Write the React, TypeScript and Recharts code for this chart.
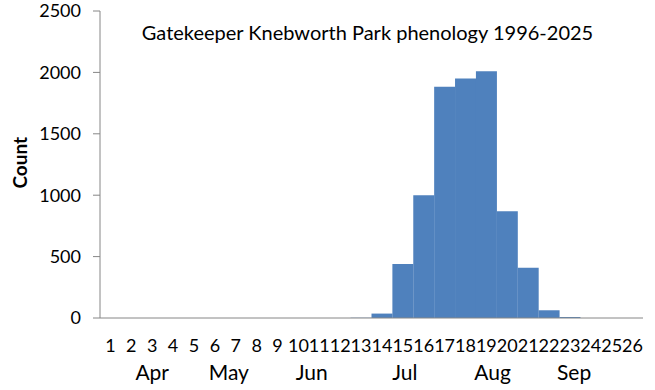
import { BarChart, Bar, XAxis, YAxis } from "recharts"

const weeks = Array.from({ length: 26 }, (_, i) => String(i + 1))
const counts = [0, 0, 0, 0, 0, 0, 0, 0, 0, 0, 0, 0, 2, 36, 440, 1000, 1883, 1950, 2009, 869, 410, 63, 8, 0, 0, 0]
const yTicks = [0, 500, 1000, 1500, 2000, 2500]
const monthNames = ["Apr", "May", "Jun", "Jul", "Aug", "Sep"]
const monthPos = [3, 6.67, 10.64, 15.1, 19.3, 23.2]

const data = weeks.map((w, i) => ({ week: w, wk: i + 1, count: counts[i] }))

const font = "Lato, Calibri, sans-serif"

export default function App() {
  return (
    <div style={{ position: "absolute", left: 0, top: 0, width: 655, height: 390, background: "#fff", fontFamily: font }}>
      <div style={{ position: "absolute", left: 92, width: 551, top: 19, textAlign: "center", fontSize: 20, lineHeight: "26px", color: "#000", zIndex: 1 }}>
        Gatekeeper Knebworth Park phenology 1996-2025
      </div>
      <BarChart width={655} height={390} data={data} barCategoryGap={0}
        margin={{ top: 11, right: 12, left: 0, bottom: 0 }}>
        <YAxis domain={[0, 2500]} ticks={yTicks} width={100} interval={0}
          axisLine={{ stroke: "#868686" }} tickLine={{ stroke: "#868686" }} tickSize={7} tickMargin={12}
          tick={{ fill: "#000", fontSize: 18, fontFamily: font }}
          label={{ value: "Count", angle: -90, position: "insideLeft", offset: 20, fontWeight: "bold", fontSize: 19, fill: "#000", fontFamily: font, dy: 24 }} />
        <XAxis dataKey="week" interval={0} height={36} tickSize={0} tickMargin={21}
          axisLine={{ stroke: "#868686" }} tickLine={false}
          tick={{ fill: "#000", fontSize: 18, fontFamily: font }} />
        <XAxis xAxisId="month" dataKey="wk" type="number" domain={[0.5, 26.5]} ticks={monthPos}
          tickFormatter={(v: number) => monthNames[monthPos.indexOf(v)] ?? ""}
          interval={0} height={36} axisLine={false} tickLine={false} tickSize={0} tickMargin={11}
          tick={{ fill: "#000", fontSize: 21, fontFamily: font }} allowDataOverflow />
        <Bar dataKey="count" fill="#4f81bd" isAnimationActive={false} />
      </BarChart>
    </div>
  )
}
